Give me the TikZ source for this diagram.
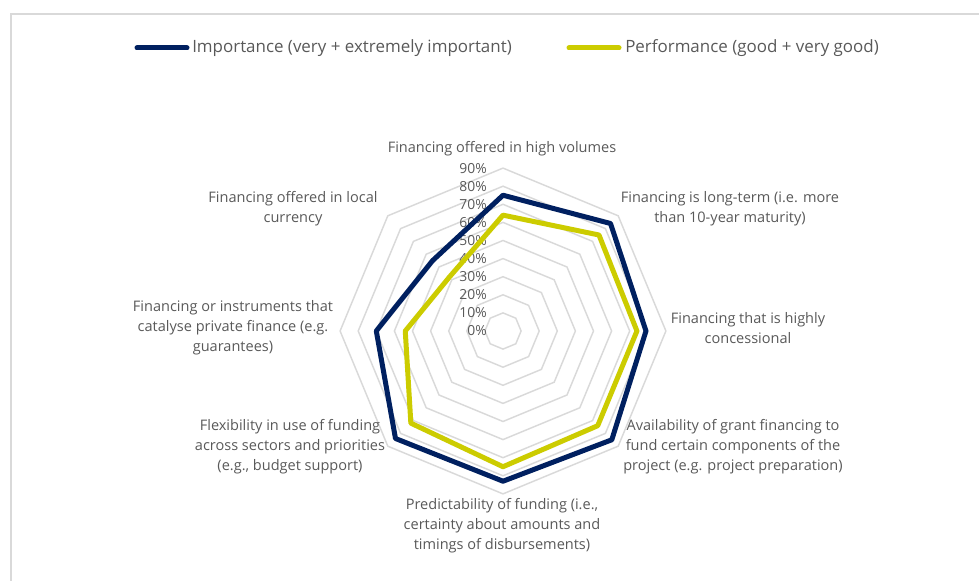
\documentclass[tikz,border=0pt]{standalone}
\usepackage{fontspec}
\setmainfont{Open Sans}
\usetikzlibrary{calc,shapes.geometric,positioning}
\definecolor{impblue}{RGB}{0,32,96}
\definecolor{perfyellow}{RGB}{204,204,0}
\definecolor{labelgray}{RGB}{89,89,89}
\definecolor{gridgray}{RGB}{217,217,217}
\tikzset{
    ring/.style={
    regular polygon,regular polygon sides=8,shape border rotate=22.5,
    draw=gridgray,line width=1.1pt,inner sep=0pt,outer sep=0pt
    },
    tick/.style={
    anchor=east,text=labelgray,inner sep=0pt,font=\fontsize{10.4}{12}\selectfont
    },
    axislabel/.style={
    align=center,text=labelgray,inner sep=0pt,font=\fontsize{10.9}{15}\selectfont
    },
    legendtext/.style={
    anchor=west,text=labelgray,inner sep=0pt,font=\fontsize{12.7}{14}\selectfont
    },
    impline/.style={
    draw=impblue,line width=3.75pt,line join=round,line cap=round
    },
    perfline/.style={
    draw=perfyellow,line width=3.75pt,line join=round,line cap=round
    },
}
\begin{document}
\begin{tikzpicture}[x=0.75pt,y=0.75pt]
   \useasboundingbox (0,0) rectangle (979,581);
   \draw[gridgray,line width=1.5pt] (979,567) -- (11,567) -- (11,0);

   \coordinate (C) at (503,250);

   % grid rings, 10% each
   \node[ring,minimum size=27.15pt] (r1) at (C) {};
   \node[ring,minimum size=54.3pt] (r2) at (C) {};
   \node[ring,minimum size=81.45pt] (r3) at (C) {};
   \node[ring,minimum size=108.6pt] (r4) at (C) {};
   \node[ring,minimum size=135.75pt] (r5) at (C) {};
   \node[ring,minimum size=162.9pt] (r6) at (C) {};
   \node[ring,minimum size=190.05pt] (r7) at (C) {};
   \node[ring,minimum size=217.2pt] (r8) at (C) {};
   \node[ring,minimum size=244.35pt] (r9) at (C) {};

   % scale
   \node[tick] (t0) at (487,250) {0\%};
   \node[tick] (t1) at (487,268.1) {10\%};
   \node[tick] (t2) at (487,286.2) {20\%};
   \node[tick] (t3) at (487,304.3) {30\%};
   \node[tick] (t4) at (487,322.4) {40\%};
   \node[tick] (t5) at (487,340.5) {50\%};
   \node[tick] (t6) at (487,358.6) {60\%};
   \node[tick] (t7) at (487,376.7) {70\%};
   \node[tick] (t8) at (487,394.8) {80\%};
   \node[tick] (t9) at (487,412.9) {90\%};

   % importance
   \coordinate (I1) at ([shift={(90:{75*1.81})}]C);
   \coordinate (I2) at ([shift={(45:{84*1.81})}]C);
   \coordinate (I3) at ([shift={(0:{79*1.81})}]C);
   \coordinate (I4) at ([shift={(-45:{85*1.81})}]C);
   \coordinate (I5) at ([shift={(-90:{83*1.81})}]C);
   \coordinate (I6) at ([shift={(-135:{84*1.81})}]C);
   \coordinate (I7) at ([shift={(180:{70*1.81})}]C);
   \coordinate (I8) at ([shift={(135:{55*1.81})}]C);
   \draw[impline] (I1) -- (I2) -- (I3) -- (I4) -- (I5) -- (I6) -- (I7) -- (I8) -- cycle;

   % performance
   \coordinate (P1) at ([shift={(90:{64*1.81})}]C);
   \coordinate (P2) at ([shift={(45:{75*1.81})}]C);
   \coordinate (P3) at ([shift={(0:{74*1.81})}]C);
   \coordinate (P4) at ([shift={(-45:{74*1.81})}]C);
   \coordinate (P5) at ([shift={(-90:{75*1.81})}]C);
   \coordinate (P6) at ([shift={(-135:{72*1.81})}]C);
   \coordinate (P7) at ([shift={(180:{54*1.81})}]C);
   \coordinate (P8) at ([shift={(135:{42*1.81})}]C);
   \draw[perfline] (P1) -- (P2) -- (P3) -- (P4) -- (P5) -- (P6) -- (P7) -- (P8) -- cycle;

   % category labels
   \node[axislabel] (lN) at (502,432) {Financing offered in high volumes};
   \node[axislabel] (lNE) at (730,372) {Financing is long-term (i.e. more\\than 10-year maturity)};
   \node[axislabel] (lE) at (748,253) {Financing that is highly\\concessional};
   \node[axislabel] (lSE) at (733,134) {Availability of grant financing to\\fund certain components of the\\project (e.g. project preparation)};
   \node[axislabel] (lS) at (502,55) {Predictability of funding (i.e.,\\certainty about amounts and\\timings of disbursements)};
   \node[axislabel] (lSW) at (290,134) {Flexibility in use of funding\\across sectors and priorities\\(e.g., budget support)};
   \node[axislabel] (lW) at (233,253) {Financing or instruments that\\catalyse private finance (e.g.\\guarantees)};
   \node[axislabel] (lNW) at (293,372) {Financing offered in local\\currency};

   % legend
   \coordinate (k1a) at (137,533);
   \coordinate (k1b) at (187,533);
   \node[legendtext] (k1) at (192,533) {Importance (very + extremely important)};
   \coordinate (k2a) at (569,533);
   \coordinate (k2b) at (619,533);
   \node[legendtext] (k2) at (625,533) {Performance (good + very good)};
   \draw[impline] (k1a) -- (k1b);
   \draw[perfline] (k2a) -- (k2b);
\end{tikzpicture}
\end{document}
